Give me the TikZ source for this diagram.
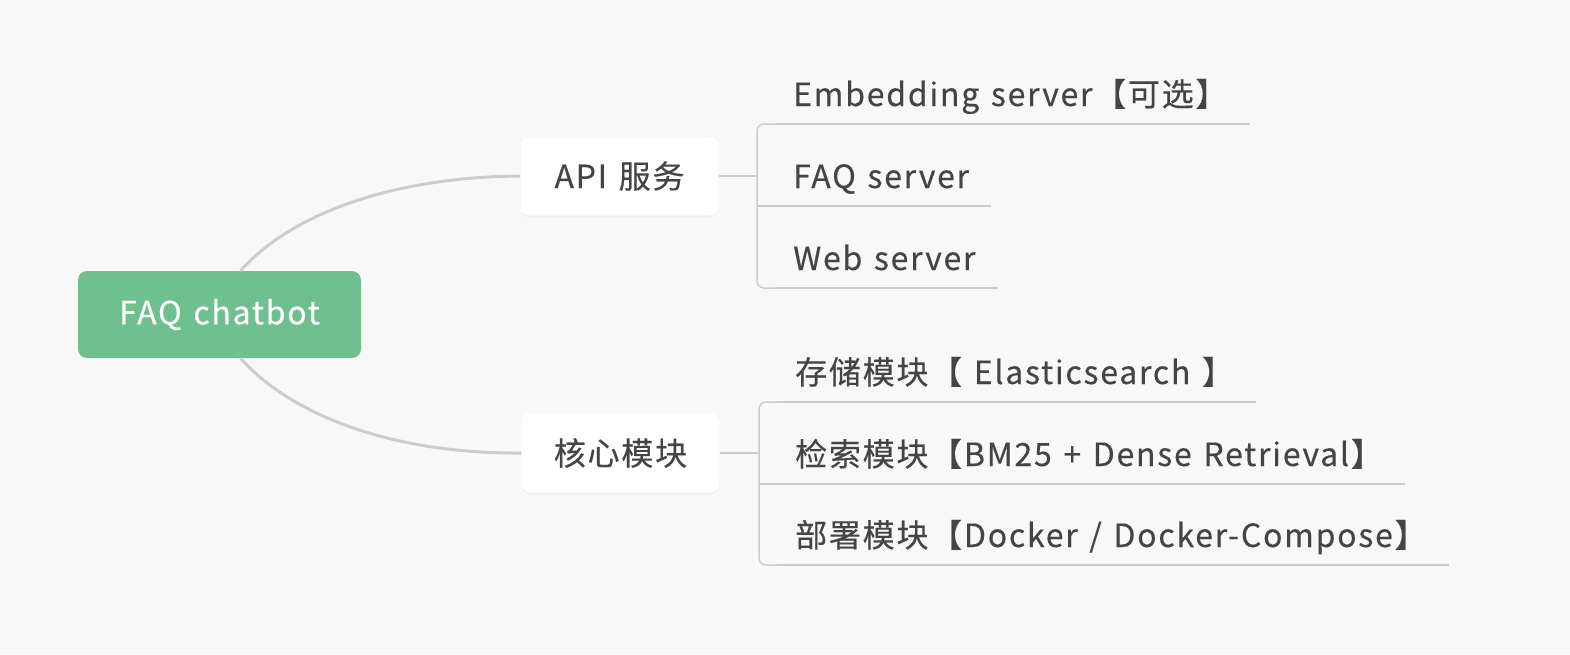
\documentclass[tikz,border=0pt]{standalone}
\usepackage{fontspec}
\setmainfont{Noto Sans CJK SC}[LetterSpace=5.5, FakeBold=0.3, WordSpace=1.3]
\usetikzlibrary{shadows}
\definecolor{bggray}{HTML}{F8F8F8}
\definecolor{rootgreen}{HTML}{6FC08F}
\definecolor{linegray}{HTML}{CCCCCC}
\definecolor{textgray}{HTML}{444444}
\tikzset{
  rootbox/.style={fill=rootgreen, rounded corners=9pt, minimum width=283pt, minimum height=87pt,
    text=white, font=\fontsize{32}{38}\selectfont},
  topicbox/.style={fill=white, rounded corners=9pt, minimum width=198pt, minimum height=79pt,
    text=textgray, font=\fontsize{32}{38}\selectfont,
    drop shadow={opacity=0.06, shadow xshift=0pt, shadow yshift=-2pt}},
  leaf/.style={anchor=base west, inner xsep=18pt, inner ysep=0pt, text=textgray,
    font=\fontsize{32}{38}\selectfont},
  branch/.style={draw=linegray, line width=3pt},
  twig/.style={draw=linegray, line width=2.5pt},
  brace/.style={draw=linegray, line width=1.5pt, rounded corners=7pt},
}
\begin{document}
\begin{tikzpicture}[x=1pt, y=-1pt]
  \fill[bggray] (0,0) rectangle (1570,654);
  \useasboundingbox (0,0) rectangle (1570,654);
  \node[rootbox] (root) at (219.5,314.5) {FAQ chatbot};
  \node[topicbox] (api) at (619.5,176) {API 服务};
  \node[topicbox] (core) at (620.5,453) {核心模块};
  \draw[branch] ([xshift=21pt]root.north) .. controls (290,215) and (390,177) .. (api.west);
  \draw[branch] ([xshift=21pt]root.south) .. controls (290,414) and (390,454) .. (core.west);
  % API leaves
  \foreach \n/\y/\t in {a1/124/{Embedding server【可选】}, a2/206/{FAQ server}, a3/288/{Web server}} {
    \coordinate (b\n) at (757,\y);
    \node[leaf] (\n) at (775,\y-18) {\t};
    \draw[twig] (775,\y) -- ([xshift=4pt]\n.east |- b\n);
  }
  % core leaves
  \foreach \n/\y/\t in {c1/402/{存储模块【 Elasticsearch 】}, c2/484/{检索模块【BM25 + Dense Retrieval】}, c3/565/{部署模块【Docker / Docker-Compose】}} {
    \coordinate (b\n) at (759,\y);
    \node[leaf] (\n) at (777,\y-18) {\t};
    \draw[twig] (777,\y) -- ([xshift=4pt]\n.east |- b\n);
  }
  \draw[twig] (api.east) -- (api.east -| ba1);
  \draw[twig] (core.east) -- (core.east -| bc1);
  \draw[brace] (777,124) -- (ba1) -- (ba3) -- (777,288);
  \draw[brace] (ba2) -- (777,206);
  \draw[brace] (779,402) -- (bc1) -- (bc3) -- (779,565);
  \draw[brace] (bc2) -- (779,484);
\end{tikzpicture}
\end{document}
